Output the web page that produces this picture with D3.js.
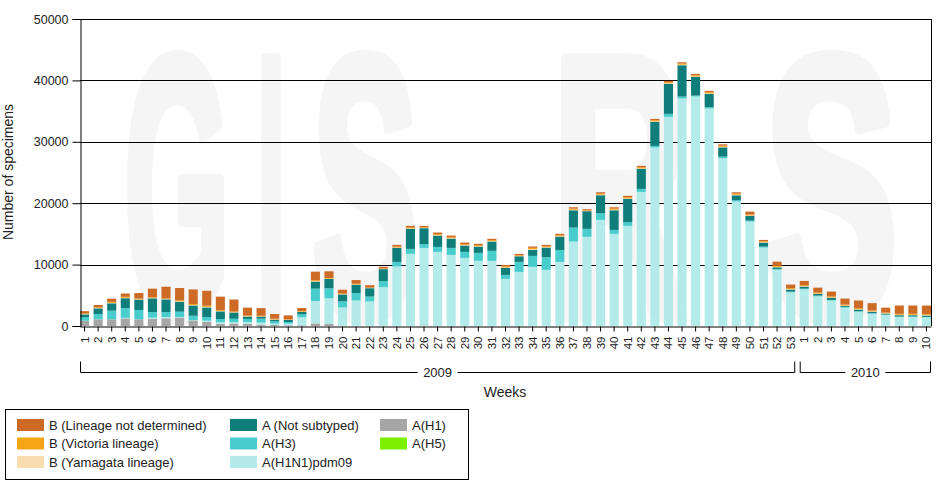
<!DOCTYPE html>
<html>
<head>
<meta charset="utf-8">
<script src="https://cdn.jsdelivr.net/npm/d3@7"></script>
<style>
    body { margin: 0; background: #fff; }
    svg { display: block; font-family: "Liberation Sans", Arial, sans-serif; }
</style>
</head>
<body>
<svg id="flu-chart" width="938" height="485"></svg>
<script>
// weeks: 53 of 2009 then 10 of 2010
const weekLabels = [1,2,3,4,5,6,7,8,9,10,11,12,13,14,15,16,17,18,19,20,21,22,23,24,25,26,27,28,29,30,31,32,33,34,35,36,37,38,39,40,41,42,43,44,45,46,47,48,49,50,51,52,53,
                    1,2,3,4,5,6,7,8,9,10];
const years = [
    { label: "2009", first: 0, last: 52 },
    { label: "2010", first: 53, last: 62 }
];

// series, stacked bottom to top
const aH1 = [860,1090,1090,1250,1090,1200,1250,1360,920,700,380,430,330,220,160,110,110,430,330,40,30,30,30,20,20,20,20,20,20,20,20,20,20,20,20,20,20,20,20,20,20,20,20,20,20,20,20,10,10,10,10,10,10,
             10,10,10,10,10,10,10,10,10,10];
const aH1N1pdm09 = [0,0,0,80,0,160,220,100,50,160,220,200,330,330,220,270,1300,3640,4180,2990,4130,3960,6300,9660,11730,12700,12050,11560,11070,10590,10590,7650,8790,9610,9120,10420,13730,14500,17260,14980,16290,21820,29040,34040,37020,37350,35390,27300,20250,16990,12760,9170,5480,
                    5970,4830,4130,2990,2340,2010,1790,1470,1470,1410];
const aH3 = [600,870,1410,1570,1520,920,810,870,700,600,540,540,490,650,380,270,490,2010,1630,980,1200,810,980,760,810,600,810,1140,980,1300,1630,650,1630,1790,2060,1950,2280,1300,1090,650,600,490,270,490,330,160,220,270,220,160,160,110,110,
             110,110,110,110,60,60,60,60,60,60];
const aH5 = [0,0,0,0,0,0,0,0,0,0,0,0,0,0,0,0,0,0,0,0,0,0,0,0,0,0,0,0,0,0,0,0,0,0,0,0,0,0,0,0,0,0,0,0,0,0,0,0,0,0,0,0,0,
             0,0,0,0,0,0,0,0,0,0];
const aNotSubtyped = [430,920,1200,1630,1680,2230,2060,1630,1680,1570,1250,1030,380,330,270,330,380,1140,1520,1140,1360,1360,1950,2280,3260,2610,1850,1520,1030,1030,1520,1140,920,980,1570,2170,2820,2880,2930,3200,3800,3260,3910,4890,5100,3040,2170,1520,810,760,650,270,330,
                      330,270,330,160,270,220,160,220,220,220];
const bYamagata = [50,50,70,70,50,50,50,70,70,90,70,50,50,40,50,30,50,70,50,50,50,40,40,70,70,50,70,70,70,70,70,70,50,110,70,70,90,50,90,90,90,90,90,90,90,90,90,90,90,70,70,70,70,
                   70,70,70,70,70,70,50,70,70,70];
const bVictoria = [100,110,150,150,110,110,110,150,150,180,150,110,110,90,110,70,110,150,110,110,110,70,70,150,150,110,150,150,150,150,150,150,110,220,150,150,180,110,180,180,180,180,180,180,180,180,180,180,180,150,150,150,150,
                   150,150,150,150,150,150,110,150,150,150];
const bNotDetermined = [380,380,540,540,920,1410,1900,2010,2390,2440,2170,1950,1300,1250,760,650,490,1410,1090,600,600,380,270,270,270,220,270,270,270,220,220,270,220,220,220,220,220,160,220,220,220,220,220,220,220,220,220,220,220,490,220,700,600,
                        700,810,810,980,1250,1200,810,1360,1360,1410];

const yTicks = [0, 10000, 20000, 30000, 40000, 50000];

const series = [
    { key: "A(H1)", values: aH1, color: "#a6a6a6" },
    { key: "A(H1N1)pdm09", values: aH1N1pdm09, color: "#b3ebeb" },
    { key: "A(H3)", values: aH3, color: "#48cdcc" },
    { key: "A(H5)", values: aH5, color: "#7cf000" },
    { key: "A (Not subtyped)", values: aNotSubtyped, color: "#0f7d7a" },
    { key: "B (Yamagata lineage)", values: bYamagata, color: "#f9ddb1" },
    { key: "B (Victoria lineage)", values: bVictoria, color: "#f6a514" },
    { key: "B (Lineage not determined)", values: bNotDetermined, color: "#cd6a26" }
];

// legend layout follows the original (3 columns)
const legendOrder = [
    ["B (Lineage not determined)", "B (Victoria lineage)", "B (Yamagata lineage)"],
    ["A (Not subtyped)", "A(H3)", "A(H1N1)pdm09"],
    ["A(H1)", "A(H5)"]
];

const width = 938, height = 485;
const margin = { left: 80, right: 7, top: 19, bottom: 159 };
const svg = d3.select("#flu-chart");

// build stack table
const table = weekLabels.map((w, i) => {
    const row = { idx: i };
    series.forEach(s => row[s.key] = s.values[i]);
    return row;
});
const stacked = d3.stack().keys(series.map(s => s.key))(table);
const colorOf = {};
series.forEach(s => colorOf[s.key] = s.color);

const x = d3.scaleBand()
    .domain(d3.range(weekLabels.length))
    .range([margin.left, width - margin.right])
    .paddingInner(0.33)
    .paddingOuter(0);

const y = d3.scaleLinear()
    .domain([0, 50000])
    .range([height - margin.bottom, margin.top]);

// watermark (very faint)
const wm = svg.append("g")
    .attr("fill", "#f5f5f5").attr("stroke", "#f5f5f5").attr("stroke-width", 14)
    .attr("stroke-linejoin", "round")
    .attr("font-weight", "bold").attr("font-size", 370);
[["G", 124, 106], ["I", 256, 30], ["S", 312, 106], ["R", 552, 136], ["S", 764, 134]].forEach(([ch, x0, w]) => {
    wm.append("text").attr("x", x0).attr("y", 315)
        .attr("textLength", w).attr("lengthAdjust", "spacingAndGlyphs")
        .text(ch);
});

// gridlines
svg.append("g")
    .selectAll("line")
    .data(yTicks.slice(1))
    .join("line")
    .attr("x1", margin.left).attr("x2", width - margin.right)
    .attr("y1", d => Math.round(y(d)) + 0.5).attr("y2", d => Math.round(y(d)) + 0.5)
    .attr("stroke", "#000");

// bars
svg.append("g")
    .selectAll("g")
    .data(stacked)
    .join("g")
    .attr("fill", d => colorOf[d.key])
    .selectAll("rect")
    .data(d => d)
    .join("rect")
    .attr("x", d => x(d.data.idx))
    .attr("width", x.bandwidth())
    .attr("y", d => y(d[1]))
    .attr("height", d => y(d[0]) - y(d[1]));

// right border
svg.append("line")
    .attr("x1", width - margin.right + 0.5).attr("x2", width - margin.right + 0.5)
    .attr("y1", y(50000)).attr("y2", y(0))
    .attr("stroke", "#000");

// y axis
const yAxis = svg.append("g")
    .attr("transform", `translate(${margin.left + 0.5},0)`)
    .call(d3.axisLeft(y).tickValues(yTicks).tickSize(8).tickPadding(4).tickFormat(d3.format("d")));
yAxis.select(".domain").attr("stroke", "#000");
yAxis.selectAll("text").attr("font-size", 12.5).attr("fill", "#222").attr("font-family", null);

svg.append("text")
    .attr("transform", `translate(13,${172}) rotate(-90)`)
    .attr("text-anchor", "middle")
    .attr("font-size", 14)
    .attr("fill", "#222")
    .text("Number of specimens");

// x axis
const xAxis = svg.append("g")
    .attr("transform", `translate(0,${y(0) + 0.5})`)
    .call(d3.axisBottom(x).tickSize(5).tickSizeOuter(0).tickFormat(i => weekLabels[i]));
xAxis.select(".domain").attr("stroke", "#000");
xAxis.selectAll("text")
    .attr("font-size", 11.5)
    .attr("fill", "#222")
    .attr("font-family", null)
    .attr("text-anchor", "end")
    .attr("transform", "rotate(-90)")
    .attr("x", -10)
    .attr("y", 0)
    .attr("dy", "0.35em");

// year brackets
const bracketY = 372.5;
years.forEach(yr => {
    const x0 = x(yr.first) + 0.5;
    const x1 = x(yr.last) + x.bandwidth() - 0.5;
    const cx = (x0 + x1) / 2;
    const g = svg.append("g").attr("stroke", "#000").attr("fill", "none");
    g.append("path").attr("d", `M${x0},${bracketY - 11}V${bracketY}H${cx - 20}`);
    g.append("path").attr("d", `M${cx + 20},${bracketY}H${x1}V${bracketY - 11}`);
    svg.append("text")
        .attr("x", cx).attr("y", bracketY + 4.5)
        .attr("text-anchor", "middle")
        .attr("font-size", 13)
        .attr("fill", "#222")
        .text(yr.label);
});

svg.append("text")
    .attr("x", 505).attr("y", 397)
    .attr("text-anchor", "middle")
    .attr("font-size", 14)
    .attr("fill", "#222")
    .text("Weeks");

// legend
const legend = svg.append("g");
legend.append("rect")
    .attr("x", 5.5).attr("y", 409.5)
    .attr("width", 463).attr("height", 70)
    .attr("fill", "#fff").attr("stroke", "#000");
const colX = [17, 230, 380];
legendOrder.forEach((col, ci) => {
    col.forEach((key, ri) => {
        const cy = 425 + ri * 18.5;
        legend.append("rect")
            .attr("x", colX[ci]).attr("y", cy - 6)
            .attr("width", 27).attr("height", 12)
            .attr("fill", colorOf[key]);
        legend.append("text")
            .attr("x", colX[ci] + 32).attr("y", cy)
            .attr("dy", "0.35em")
            .attr("font-size", 13)
            .attr("fill", "#222")
            .text(key);
    });
});
</script>
</body>
</html>
